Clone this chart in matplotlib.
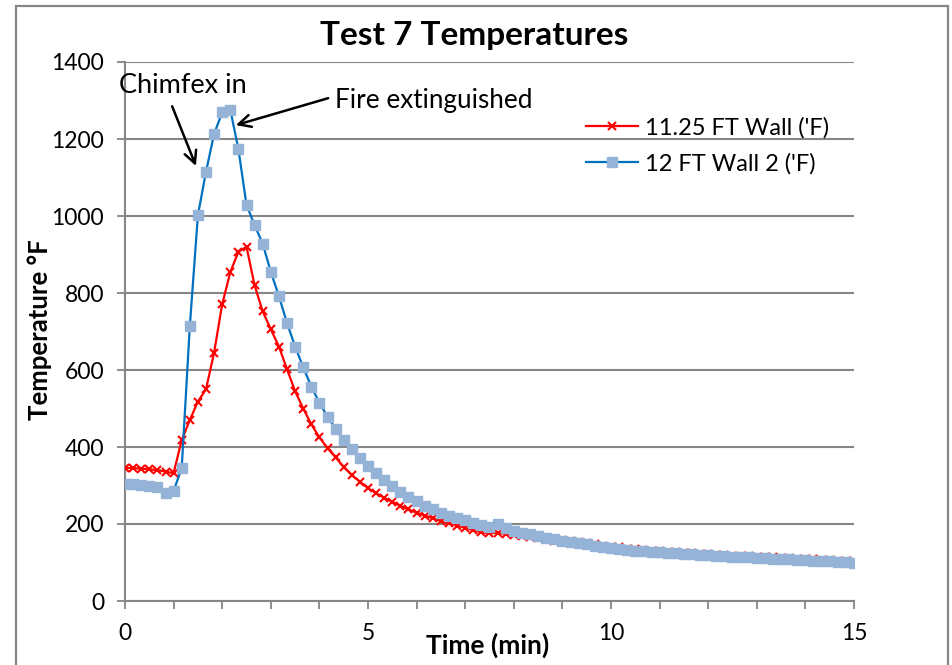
import matplotlib
matplotlib.use("Agg")
import matplotlib.pyplot as plt
from matplotlib.patches import Rectangle
from matplotlib.ticker import MultipleLocator

plt.rcParams['font.family'] = ['Lato', 'DejaVu Sans']

# Sample times in seconds (10 s logging interval), converted to minutes
time_s = list(range(0, 901, 10))
time_min = [t / 60 for t in time_s]

wall_1125 = [346, 345, 344, 342, 340, 336, 332, 418, 470, 518,
             550, 645, 771, 854, 907, 920, 820, 752, 706, 661,
             602, 545, 500, 459, 425, 397, 373, 348, 327, 310,
             293, 280, 268, 258, 247, 238, 229, 222, 215, 208,
             202, 196, 190, 184, 178, 176, 177, 174, 171, 168,
             166, 163, 160, 157, 158, 155, 153, 150, 147, 144,
             141, 139, 136, 134, 133, 131, 130, 128, 127, 125,
             124, 123, 122, 120, 119, 118, 117, 116, 115, 114,
             113, 112, 111, 110, 109, 108, 107, 106, 105, 104,
             103]

wall_12_2 = [305, 303, 301, 300, 297, 281, 286, 345, 713, 1002,
             1115, 1213, 1269, 1276, 1174, 1029, 976, 928, 855, 792,
             722, 661, 607, 557, 515, 479, 447, 418, 394, 371,
             351, 332, 314, 299, 284, 271, 260, 248, 238, 229,
             222, 216, 210, 203, 197, 191, 199, 189, 183, 177,
             174, 169, 164, 160, 156, 153, 150, 147, 144, 141,
             138, 136, 133, 131, 130, 128, 127, 125, 124, 122,
             121, 120, 119, 117, 116, 115, 114, 113, 112, 111,
             110, 109, 108, 107, 106, 105, 104, 103, 102, 101,
             100]

series_labels = ["11.25 FT Wall ('F)", "12 FT Wall 2 ('F)"]
title = "Test 7 Temperatures"
xlabel = "Time (min)"
ylabel = "Temperature \u00b0F"

GRAY = "#868686"

fig = plt.figure(figsize=(9.53, 6.65), dpi=100)
fig.patch.set_facecolor("white")
fig.patches.append(Rectangle((16 / 953, -0.1), (948 - 16) / 953, 1.1 - 6 / 665,
                             transform=fig.transFigure, fill=False,
                             edgecolor=GRAY, linewidth=1.6, zorder=0))

ax = fig.add_axes([125 / 953, 1 - 601 / 665, 729 / 953, 539 / 665])

l1, = ax.plot(time_min, wall_1125, color="#FF0000", lw=1.6, marker="x",
              markersize=6, mew=1.5, mec="#FF0000", zorder=3)
l2, = ax.plot(time_min, wall_12_2, color="#0070C0", lw=1.6, marker="s",
              markersize=6.5, mfc="#95B3D7", mec="#95B3D7", zorder=4)

ax.set_xlim(0, 15)
ax.set_ylim(0, 1400)
ax.xaxis.set_major_locator(MultipleLocator(5))
ax.xaxis.set_minor_locator(MultipleLocator(1))
ax.yaxis.set_major_locator(MultipleLocator(200))

ax.grid(axis="y", color=GRAY, lw=1.5, zorder=0)
ax.set_axisbelow(True)
for s in ["top", "right"]:
    ax.spines[s].set_visible(False)
for s in ["left", "bottom"]:
    ax.spines[s].set_color(GRAY)
    ax.spines[s].set_linewidth(1.5)

ax.tick_params(axis="both", which="both", direction="out", length=6,
               width=1.3, color=GRAY, labelsize=16.5, labelcolor="black")
ax.tick_params(axis="x", which="both", pad=10)
ax.tick_params(axis="y", pad=9)

fig.text(474 / 953, 1 - 35 / 665, title, ha="center", va="center",
         fontsize=24, fontweight="bold")
fig.text(488 / 953, 1 - 645 / 665, xlabel, ha="center", va="center",
         fontsize=19, fontweight="bold")
fig.text(40 / 953, 1 - 330 / 665, ylabel, ha="center", va="center",
         rotation=90, fontsize=18.5, fontweight="bold")

# annotations
ax.text(1.19, 1340, "Chimfex in", ha="center", va="center", fontsize=19.5)
ax.annotate("", xy=(1.46, 1130), xytext=(0.97, 1285),
            arrowprops=dict(arrowstyle="->", color="black", lw=1.8,
                            mutation_scale=22, shrinkA=0, shrinkB=0))
ax.text(4.32, 1301, "Fire extinguished", ha="left", va="center", fontsize=18.8)
ax.annotate("", xy=(2.28, 1236), xytext=(4.18, 1306),
            arrowprops=dict(arrowstyle="->", color="black", lw=1.8,
                            mutation_scale=22, shrinkA=0, shrinkB=0))

leg = ax.legend([l1, l2], series_labels, loc="upper left",
                bbox_to_anchor=(0.633, 0.898), frameon=False, fontsize=17,
                handlelength=2.2, handletextpad=0.3, labelspacing=0.62,
                borderpad=0, borderaxespad=0)

fig.savefig("out.png", dpi=100)
